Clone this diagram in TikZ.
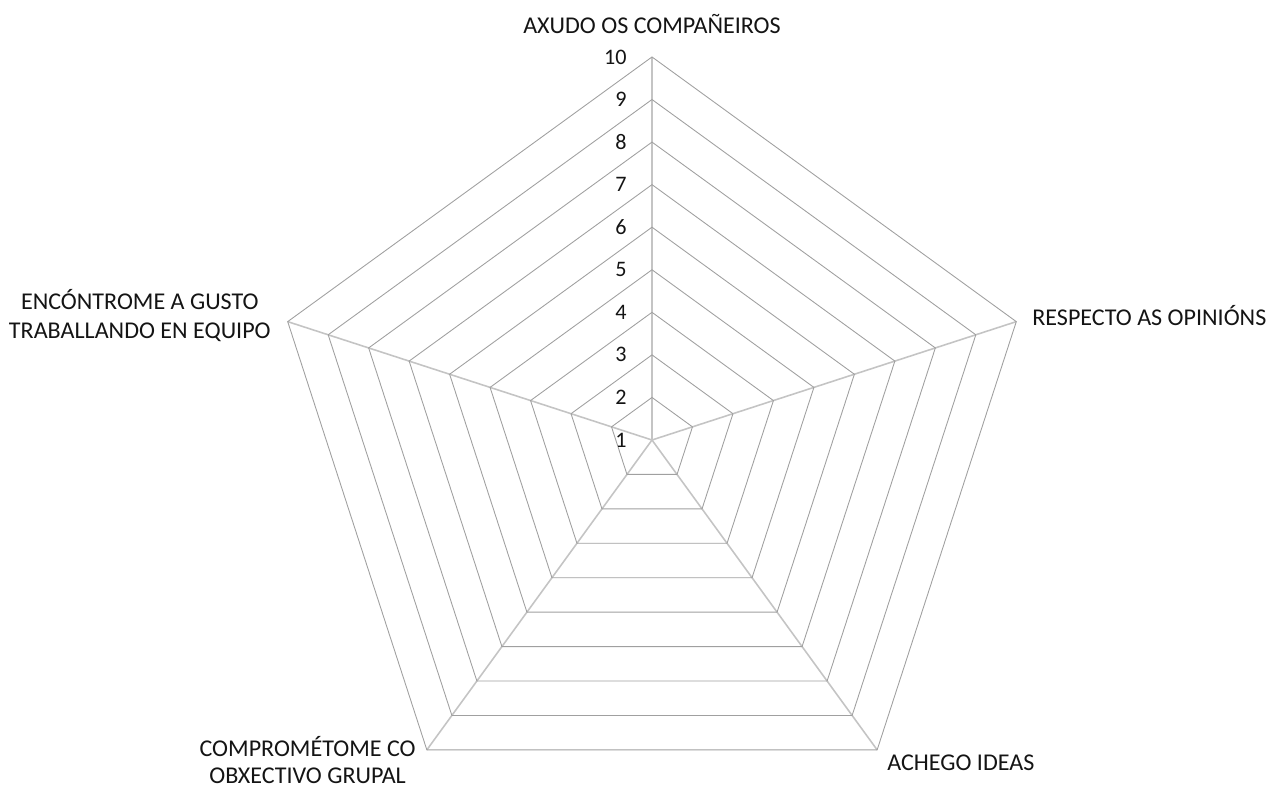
\documentclass[tikz,border=0pt]{standalone}
\usepackage{fontspec}
\setmainfont{Carlito}
\usetikzlibrary{positioning}
\definecolor{gridgray}{HTML}{A0A0A0}
\definecolor{spokegray}{HTML}{C4C4C4}
\definecolor{labelblack}{HTML}{141414}

\begin{document}
\begin{tikzpicture}[x=0.2mm, y=0.2mm,
    every node/.style={font=\fontsize{13.7}{16.5}\selectfont, text=labelblack, inner sep=0pt},
    ring/.style={gridgray, line width=0.5pt, line join=miter},
    spoke/.style={spokegray, line width=0.9pt},
    axislabel/.style={align=center},
    scalenum/.style={anchor=east, font=\fontsize{12.6}{15}\selectfont}]

  % ---- Canvas ----
  \useasboundingbox (-652,-349) rectangle (630,440);

  % ---- Spokes ----
  \foreach \ang in {90,18,-54,-126,162}
    \draw[spoke] (0,0) -- (\ang:383);

  % ---- Rings 2..10 ----
  \foreach \k in {2,...,10}{
    \pgfmathsetmacro{\rad}{(\k-1)*42.56}
    \draw[ring] (90:\rad) -- (18:\rad) -- (-54:\rad) -- (-126:\rad) -- (162:\rad) -- cycle;
  }

  % ---- Scale numbers ----
  \foreach \k in {1,...,10}{
    \pgfmathsetmacro{\rad}{(\k-1)*42.56}
    \node[scalenum] (num\k) at (-25,\rad) {\k};
  }

  % ---- Axis labels ----
  \node[axislabel] (axudo) at (0,416) {AXUDO OS COMPAÑEIROS};
  \node[axislabel, anchor=west] (respecto) at (380,124) {RESPECTO AS OPINIÓNS};
  \node[axislabel, anchor=west] (achego) at (235,-323) {ACHEGO IDEAS};
  \node[axislabel, anchor=east] (comprometome) at (-236,-320) {COMPROMÉTOME CO\\[-1.5pt]OBXECTIVO GRUPAL};
  \node[axislabel, anchor=east] (encontrome) at (-381,124) {ENCÓNTROME A GUSTO\\TRABALLANDO EN EQUIPO};

\end{tikzpicture}
\end{document}
